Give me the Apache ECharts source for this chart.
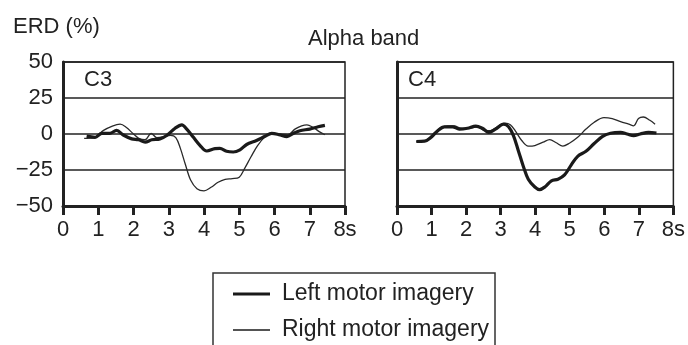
<!DOCTYPE html>
<html>
<head>
<meta charset="utf-8">
<script src="https://cdn.jsdelivr.net/npm/echarts@6/dist/echarts.min.js"></script>
<style>
  html, body { margin: 0; padding: 0; background: #fff; }
  #chart { width: 688px; height: 345px; }
</style>
</head>
<body>
<div id="chart"></div>
<script>
// Alpha-band ERD time courses (%), pairs of [time in s, ERD %]
const c3Left = [[0.67,-1.5],[0.91,-2.3],[1.1,0.5],[1.33,0.5],[1.52,2.5],[1.71,-0.7],[1.95,-3.4],[2.14,-4],[2.33,-5.7],[2.52,-4],[2.75,-3.4],[2.94,-1],[3.18,4],[3.37,6.4],[3.51,3.4],[3.7,-2.3],[3.89,-8],[4.08,-11.8],[4.31,-10.2],[4.45,-10],[4.64,-12],[4.83,-12.5],[5.02,-11],[5.21,-7.3],[5.49,-4.5],[5.73,-1.6],[5.92,0.5],[6.16,-0.7],[6.35,-1.8],[6.54,0.5],[6.72,2.3],[7.0,3.4],[7.24,5],[7.43,6]];
const c3Right = [[0.6,-3],[0.88,-2.5],[1.15,2.5],[1.4,5.5],[1.62,6.8],[1.8,4.5],[2.0,0],[2.15,-3],[2.33,-4],[2.5,0.5],[2.66,-2.5],[2.85,-2],[3.05,-1],[3.2,-2.5],[3.33,-10],[3.47,-21],[3.62,-32],[3.8,-38],[4.0,-39.5],[4.2,-37],[4.4,-33.5],[4.6,-31.5],[4.8,-31],[5.0,-30],[5.15,-24],[5.33,-16],[5.52,-8],[5.73,-2],[5.92,0.7],[6.15,0],[6.38,-0.5],[6.58,3.4],[6.77,5.7],[6.92,6.4],[7.1,4.5],[7.28,1.5],[7.43,-0.5]];
const c4Left = [[0.56,-5.2],[0.8,-5],[0.99,-2.3],[1.18,2.3],[1.37,5],[1.61,5],[1.8,3.4],[2.04,4],[2.28,5.5],[2.47,4],[2.66,1.1],[2.85,3.4],[3.09,6.8],[3.23,5],[3.37,-1.1],[3.51,-11.4],[3.66,-22.7],[3.8,-31.4],[3.99,-36.8],[4.13,-38.6],[4.28,-36.8],[4.47,-32.5],[4.66,-31.4],[4.85,-28.4],[5.04,-21.6],[5.23,-15.5],[5.47,-12],[5.7,-6.8],[5.94,-1.8],[6.18,0.5],[6.47,1.1],[6.66,0],[6.85,-1.1],[7.04,0],[7.28,1.1],[7.51,0.7]];
const c4Right = [[0.56,-5.2],[0.8,-5],[1.04,0],[1.28,4.5],[1.47,5.7],[1.66,5.7],[1.85,4],[2.09,4],[2.32,5],[2.51,2.7],[2.7,2.3],[2.9,5],[3.13,7.5],[3.28,6.4],[3.42,2.3],[3.61,-4.5],[3.8,-8.4],[3.99,-8],[4.23,-5.7],[4.42,-3.9],[4.61,-6.1],[4.8,-8.4],[4.99,-6.4],[5.23,-2.3],[5.47,3.4],[5.7,8],[5.99,11.4],[6.23,10.7],[6.47,8.6],[6.71,6.8],[6.85,5.7],[6.99,10.7],[7.13,11.8],[7.32,9.5],[7.47,6.8]];

const timeTicks = [0, 1, 2, 3, 4, 5, 6, 7, 8];
const erdTicks = [-50, -25, 0, 25, 50];
const panelNames = ['C3', 'C4'];
const seriesNames = ['Left motor imagery', 'Right motor imagery'];

const FONT = 'Liberation Sans, Arial, Helvetica, sans-serif';
const INK = '#222';
const THICK = 3.2;
const THIN = 1.3;

const chart = echarts.init(document.getElementById('chart'), null, { renderer: 'canvas' });

function xAxisFor(gridIndex) {
  return {
    type: 'value', gridIndex,
    min: timeTicks[0], max: timeTicks[timeTicks.length - 1], interval: 1,
    axisLine: { show: true, onZero: false, lineStyle: { color: INK, width: 3 } },
    axisTick: { show: true, inside: false, length: 9, lineStyle: { color: INK, width: 3 } },
    axisLabel: {
      color: INK, fontFamily: FONT, fontSize: 22, margin: 13,
      formatter: v => (v === timeTicks[timeTicks.length - 1] ? v + 's' : String(v))
    },
    splitLine: { show: false }
  };
}

function yAxisFor(gridIndex, showLabels) {
  return {
    type: 'value', gridIndex,
    min: erdTicks[0], max: erdTicks[erdTicks.length - 1], interval: 25,
    axisLine: { show: true, onZero: false, lineStyle: { color: INK, width: 3 } },
    axisTick: { show: false },
    axisLabel: {
      show: showLabels, color: INK, fontFamily: FONT, fontSize: 22, margin: 10,
      formatter: v => (v < 0 ? '\u2212' + Math.abs(v) : String(v))
    },
    splitLine: { show: true, lineStyle: { color: INK, width: 1.5 } }
  };
}

function lineSeries(name, data, idx, thick) {
  return {
    name, type: 'line', data,
    xAxisIndex: idx, yAxisIndex: idx,
    smooth: 0.35, symbol: 'none', silent: true,
    z: thick ? 4 : 3,
    lineStyle: { color: thick ? '#1a1a1a' : '#2a2a2a', width: thick ? THICK : THIN }
  };
}

// Boxed key below the panels: line sample + label for each condition
function keyRow(label, y, width) {
  return [
    { type: 'line', shape: { x1: 233, y1: y, x2: 270, y2: y },
      style: { stroke: '#1a1a1a', lineWidth: width } },
    { type: 'text', x: 282, y: y,
      style: { text: label, font: '23px ' + FONT, fill: INK, textVerticalAlign: 'middle', verticalAlign: 'middle' } }
  ];
}

const option = {
  animation: false,
  backgroundColor: '#fff',
  textStyle: { fontFamily: FONT },
  title: [
    { text: 'ERD (%)', left: 13, top: 16, padding: 0,
      textStyle: { fontFamily: FONT, fontSize: 22, fontWeight: 'normal', color: INK } },
    { text: 'Alpha band', left: 308, top: 28, padding: 0,
      textStyle: { fontFamily: FONT, fontSize: 22, fontWeight: 'normal', color: INK } },
    { text: panelNames[0], left: 84, top: 69, padding: 0,
      textStyle: { fontFamily: FONT, fontSize: 22, fontWeight: 'normal', color: INK } },
    { text: panelNames[1], left: 408, top: 69, padding: 0,
      textStyle: { fontFamily: FONT, fontSize: 22, fontWeight: 'normal', color: INK } }
  ],
  grid: [
    { left: 63, top: 62, width: 282, height: 144, show: true,
      borderColor: INK, borderWidth: 1.5, backgroundColor: 'transparent' },
    { left: 397, top: 62, width: 280, height: 144, show: true,
      borderColor: INK, borderWidth: 1.5, backgroundColor: 'transparent' }
  ],
  xAxis: [xAxisFor(0), xAxisFor(1)],
  yAxis: [yAxisFor(0, true), yAxisFor(1, false)],
  graphic: [
    { type: 'rect', shape: { x: 213, y: 273, width: 282, height: 100 },
      style: { fill: 'none', stroke: '#333', lineWidth: 1.5 } },
    ...keyRow(seriesNames[0], 294, THICK),
    ...keyRow(seriesNames[1], 330, THIN)
  ],
  series: [
    lineSeries(seriesNames[0], c3Left, 0, true),
    lineSeries(seriesNames[1], c3Right, 0, false),
    lineSeries(seriesNames[0], c4Left, 1, true),
    lineSeries(seriesNames[1], c4Right, 1, false)
  ]
};

chart.setOption(option);
</script>
</body>
</html>
